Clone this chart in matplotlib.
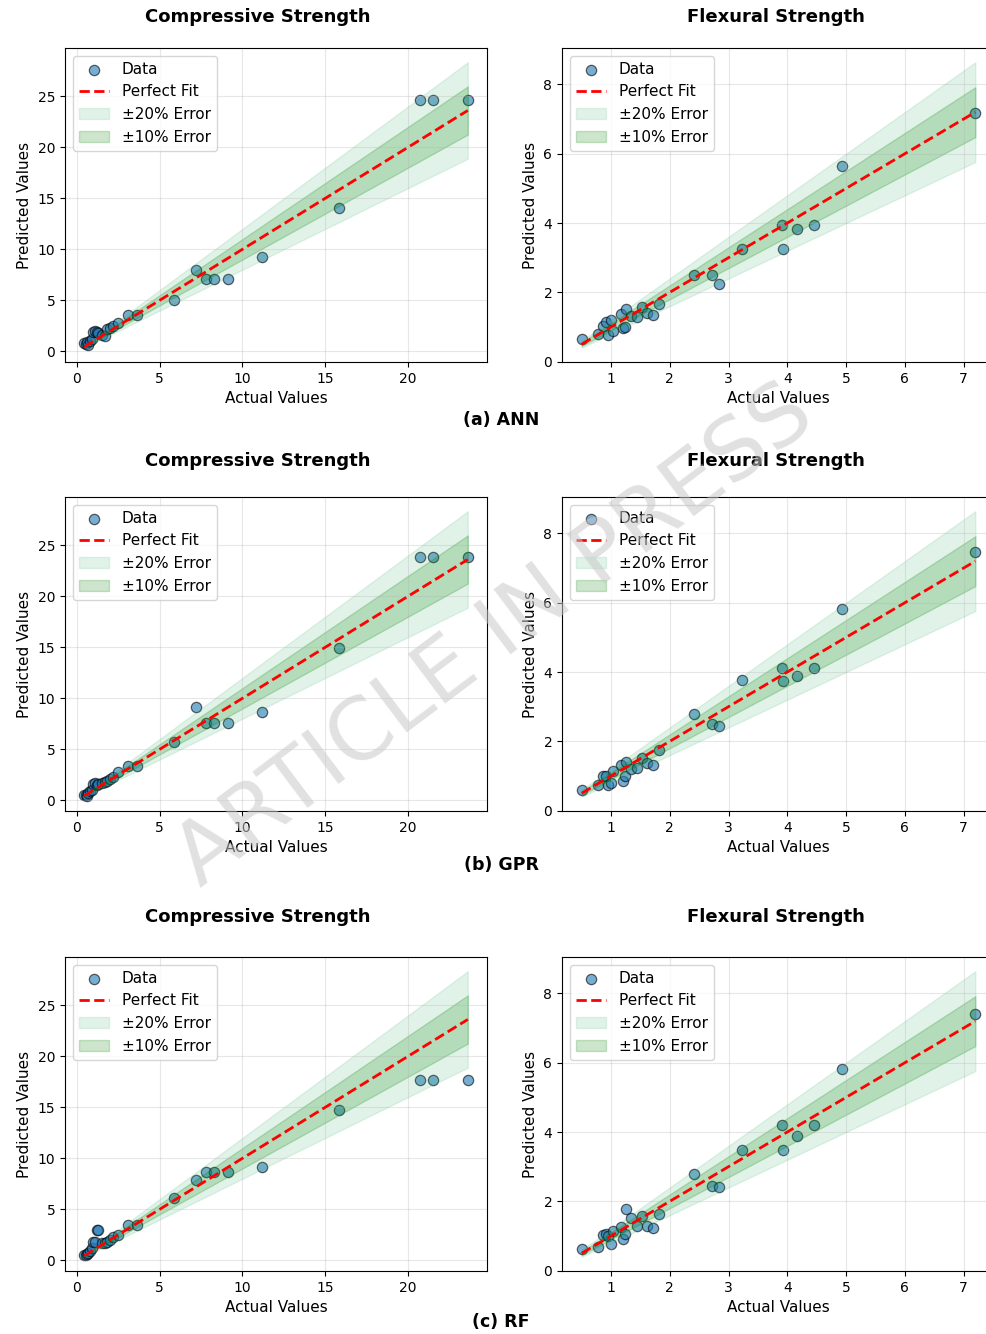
import numpy as np
import matplotlib
matplotlib.use("Agg")
import matplotlib.pyplot as plt

# Actual values (same samples for every model)
comp_actual = [0.45, 0.55, 0.6, 0.7, 0.8, 0.9, 1.0, 1.1, 1.2, 1.3, 1.5, 1.7, 1.8, 2.0,
               2.2, 2.5, 3.1, 3.66, 5.9, 7.2, 7.8, 8.3, 9.1, 11.2, 15.8, 20.7, 21.5, 23.6]
flex_actual = [0.5, 0.77, 0.86, 0.91, 0.94, 1.0, 1.03, 1.17, 1.2, 1.23, 1.26, 1.34, 1.45,
               1.52, 1.61, 1.71, 1.82, 2.42, 2.72, 2.84, 3.23, 3.91, 3.92, 4.16, 4.45, 4.93, 7.2]

# Predictions, compressive strength
comp_ann = [0.8, 0.7, 0.9, 0.6, 1.0, 1.2, 1.9, 2.0, 1.9, 1.8, 1.6, 1.5, 2.2, 2.3,
            2.5, 2.8, 3.6, 3.6, 5.0, 8.0, 7.1, 7.1, 7.1, 9.2, 14.0, 24.6, 24.6, 24.6]
comp_gpr = [0.5, 0.5, 0.4, 0.7, 0.9, 1.0, 1.6, 1.7, 1.5, 1.6, 1.7, 1.8, 1.9, 2.1,
            2.3, 2.8, 3.4, 3.4, 5.7, 9.1, 7.55, 7.55, 7.6, 8.7, 14.9, 23.8, 23.8, 23.8]
comp_rf = [0.5, 0.5, 0.6, 0.7, 0.9, 1.2, 1.8, 1.8, 3.0, 3.0, 1.7, 1.7, 1.8, 2.0,
           2.3, 2.5, 3.45, 3.45, 6.1, 7.9, 8.66, 8.66, 8.66, 9.1, 14.75, 17.7, 17.7, 17.7]

# Predictions, flexural strength
flex_ann = [0.66, 0.81, 1.04, 1.14, 0.76, 1.21, 0.87, 1.36, 0.97, 1.0, 1.52, 1.31, 1.29,
            1.58, 1.4, 1.35, 1.65, 2.5, 2.5, 2.23, 3.26, 3.95, 3.26, 3.82, 3.95, 5.66, 7.17]
flex_gpr = [0.58, 0.73, 0.99, 1.0, 0.75, 0.8, 1.14, 1.33, 0.85, 0.99, 1.4, 1.2, 1.22,
            1.53, 1.38, 1.32, 1.74, 2.8, 2.51, 2.43, 3.77, 4.12, 3.75, 3.88, 4.12, 5.83, 7.45]
flex_rf = [0.63, 0.67, 1.04, 1.06, 1.0, 0.77, 1.13, 1.25, 0.92, 1.06, 1.78, 1.52, 1.3,
           1.59, 1.29, 1.22, 1.64, 2.79, 2.44, 2.40, 3.49, 4.19, 3.49, 3.88, 4.19, 5.83, 7.4]

models = ["(a) ANN", "(b) GPR", "(c) RF"]
comp_preds = [comp_ann, comp_gpr, comp_rf]
flex_preds = [flex_ann, flex_gpr, flex_rf]

W, H = 986, 1334
fig = plt.figure(figsize=(W / 100, H / 100), dpi=100)


def px_axes(x0, y0, x1, y1):
    return fig.add_axes([x0 / W, 1 - y1 / H, (x1 - x0) / W, (y1 - y0) / H])


def panel(ax, actual, pred):
    actual = np.array(actual)
    pred = np.array(pred)
    xs = np.sort(actual)
    h0 = ax.scatter(actual, pred, s=55, color="#1f77b4", alpha=0.6,
                    edgecolors="black", linewidths=0.9, label="Data")
    h1, = ax.plot([xs.min(), xs.max()], [xs.min(), xs.max()], "r--", lw=2, label="Perfect Fit")
    h2 = ax.fill_between(xs, xs * 0.8, xs * 1.2, color="mediumseagreen", alpha=0.15,
                         label="±20% Error")
    h3 = ax.fill_between(xs, xs * 0.9, xs * 1.1, color="green", alpha=0.2,
                         label="±10% Error")
    ax.legend(handles=[h0, h1, h2, h3], loc="upper left", fontsize=11)
    ax.grid(True, alpha=0.3)
    ax.set_xlabel("Actual Values", fontsize=11)
    ax.set_ylabel("Predicted Values", fontsize=11)
    ax.tick_params(labelsize=10)


rows = [(48, 362), (497, 811), (957, 1271)]
title_y = [17, 461, 917]
cap_y = [420, 865, 1322]

for i in range(3):
    y0, y1 = rows[i]
    axl = px_axes(65, y0, 487, y1)
    panel(axl, comp_actual, comp_preds[i])
    axr = px_axes(562, y0, 995, y1)
    panel(axr, flex_actual, flex_preds[i])
    fig.text(258 / W, 1 - title_y[i] / H, "Compressive Strength", ha="center", va="center",
             fontsize=13, fontweight="bold")
    fig.text(776 / W, 1 - title_y[i] / H, "Flexural Strength", ha="center", va="center",
             fontsize=13, fontweight="bold")
    fig.text(501 / W, 1 - cap_y[i] / H, models[i], ha="center", va="center",
             fontsize=12.5, fontweight="bold")

# watermark
fig.text(495 / W, 1 - 637 / H, "ARTICLE IN PRESS", ha="center", va="center",
         rotation=37, fontsize=62, color="#c8c8c8", alpha=0.55)

fig.savefig("out.png", dpi=100)
